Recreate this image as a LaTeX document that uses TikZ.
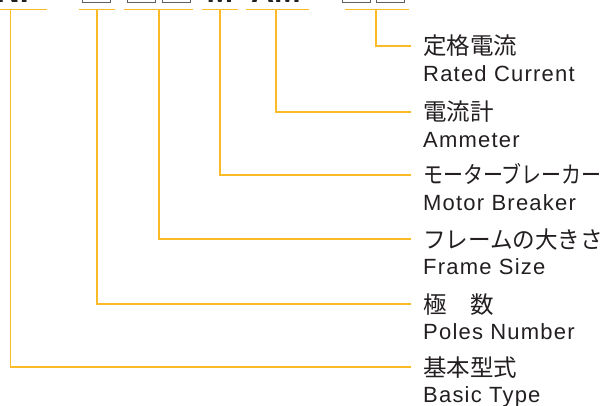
\documentclass[tikz,border=0pt]{standalone}
\usepackage{fontspec}
\usepackage{graphicx}
\setmainfont{Liberation Sans}
\newfontfamily\jpfont{Noto Sans CJK JP}
\newfontfamily\enfont[LetterSpace=5.5]{Liberation Sans}
\definecolor{lineorange}{RGB}{251,186,40}
\definecolor{txt}{RGB}{35,31,32}
\definecolor{boxgray}{RGB}{95,95,95}
\begin{document}
\begin{tikzpicture}[x=1pt,y=-1pt,
  conn/.style={draw=lineorange,line width=1.3pt},
  jp/.style={anchor=base west,inner sep=0pt,font=\jpfont\fontsize{23.5}{23.5}\selectfont,text=txt},
  en/.style={anchor=base west,inner sep=0pt,font=\enfont\fontsize{22}{22}\selectfont,text=txt},
  code/.style={anchor=base,inner sep=0pt,font=\bfseries\fontsize{32}{32}\selectfont,text=txt},
  cbox/.style={draw=boxgray,line width=1pt,minimum width=28pt,minimum height=30pt,anchor=south west,inner sep=0pt}]
\useasboundingbox (0,0) rectangle (605,406);
\clip (0,0) rectangle (605,406);
% code line at the top (cropped by the picture's edge)
\node[code] (nf) at (18,3) {NF};
\node[cbox] (b1) at (82,2.7) {};
\node[cbox] (b2) at (127,2.7) {};
\node[cbox] (b3) at (161.5,2.7) {};
\node[code] (m) at (220,3) {M};
\node[code] (am) at (276,3) {AM};
\node[cbox] (b4) at (341.5,2.7) {};
\node[cbox] (b5) at (375.5,2.7) {};
% bracket segments
\coordinate (s1a) at (0,9.5);   \coordinate (s1b) at (47,9.5);  \coordinate (s1m) at (10.5,9.5);
\coordinate (s2a) at (79,9.5);  \coordinate (s2b) at (115,9.5); \coordinate (s2m) at (97,9.5);
\coordinate (s3a) at (124,9.5); \coordinate (s3b) at (193,9.5); \coordinate (s3m) at (159,9.5);
\coordinate (s4a) at (202,9.5); \coordinate (s4b) at (238,9.5); \coordinate (s4m) at (220,9.5);
\coordinate (s5a) at (246,9.5); \coordinate (s5b) at (309,9.5); \coordinate (s5m) at (276,9.5);
\coordinate (s6a) at (345,9.5); \coordinate (s6b) at (409,9.5); \coordinate (s6m) at (376,9.5);
% label line ends
\coordinate (e1) at (411,46);
\coordinate (e2) at (411,112);
\coordinate (e3) at (411,175);
\coordinate (e4) at (411,239);
\coordinate (e5) at (411,304);
\coordinate (e6) at (411,367);
% labels
\node[jp] (j1) at (423,55) {定格電流};
\node[en] (n1) at (423,81.7) {Rated Current};
\node[jp] (j2) at (423,121) {電流計};
\node[en] (n2) at (423,147.7) {Ammeter};
\node[jp] (j3) at (423,184) {\scalebox{0.85}[1]{モーターブレーカー}};
\node[en] (n3) at (423,210.7) {Motor Breaker};
\node[jp] (j4) at (423,248) {\scalebox{0.96}[1]{フレームの大きさ}};
\node[en] (n4) at (423,274.7) {Frame Size};
\node[jp] (j5) at (423,313) {極　数};
\node[en] (n5) at (423,339.7) {Poles Number};
\node[jp] (j6) at (423,376) {基本型式};
\node[en] (n6) at (423,402.7) {Basic Type};
% connectors
\foreach \i in {1,...,6}{\draw[conn] (s\i a) -- (s\i b);}
\draw[conn] (s6m) |- (e1);
\draw[conn] (s5m) |- (e2);
\draw[conn] (s4m) |- (e3);
\draw[conn] (s3m) |- (e4);
\draw[conn] (s2m) |- (e5);
\draw[conn] (s1m) |- (e6);
\end{tikzpicture}
\end{document}
